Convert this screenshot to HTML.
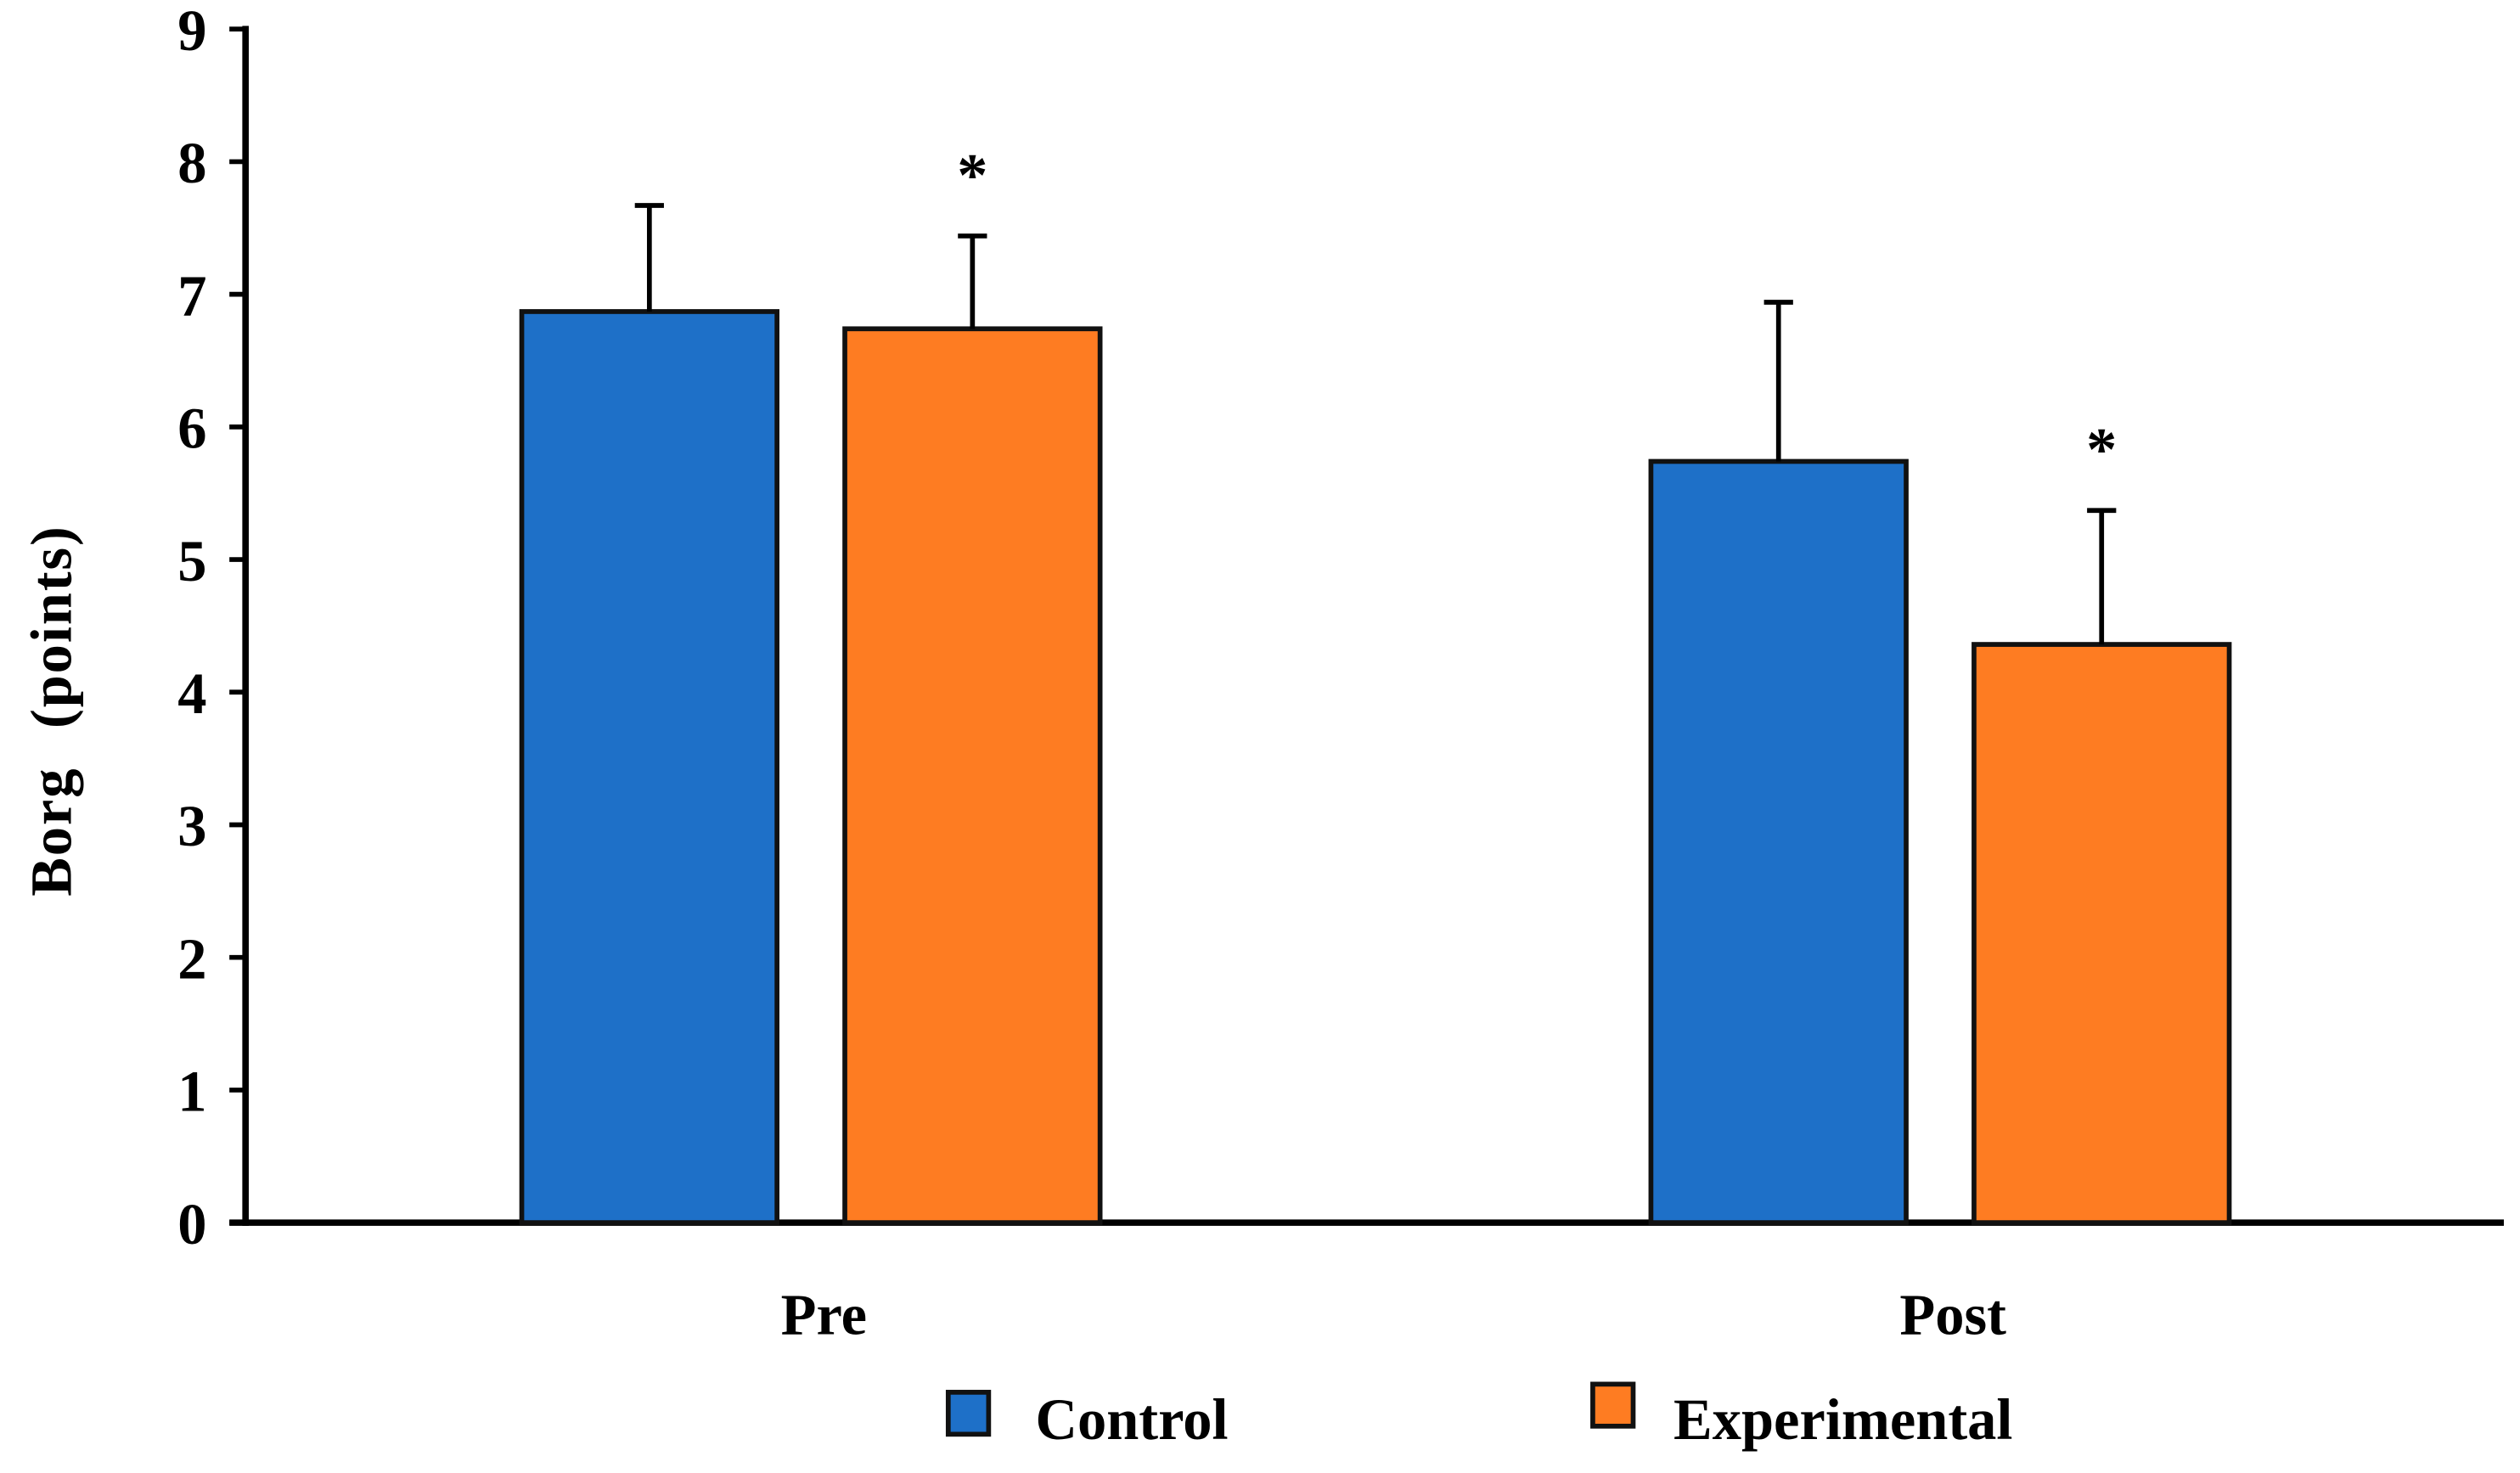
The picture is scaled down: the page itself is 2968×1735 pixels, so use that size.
<!DOCTYPE html>
<html><head><meta charset="utf-8"><style>
html,body{margin:0;padding:0;background:#fff;}
svg{display:block;}
text{font-family:"Liberation Serif",serif;font-weight:bold;fill:#000;}
</style></head><body>
<svg id="chart" width="2968" height="1735" viewBox="0 0 1560 912" preserveAspectRatio="none" xmlns="http://www.w3.org/2000/svg">
<g id="axes"></g><g id="bars"></g>
<text transform="translate(44,440) rotate(-90)" text-anchor="middle" font-size="36" letter-spacing="1" word-spacing="14">Borg (points)</text>
<g>
<rect x="587" y="862" width="25" height="26" fill="#1e70c8" stroke="#111" stroke-width="3"/>
<text x="641" y="891" font-size="36">Control</text>
<rect x="986" y="857" width="25" height="26" fill="#fe7c22" stroke="#111" stroke-width="3"/>
<text x="1036" y="891" font-size="36">Experimental</text>
</g>
</svg>
<script>
const categories = ["Pre", "Post"];
const controlMeans = [6.87, 5.74];
const controlErr = [0.80, 1.20];
const experimentalMeans = [6.74, 4.36];
const experimentalErr = [0.70, 1.01];
const significant = [true, true];
const yTicks = [0,1,2,3,4,5,6,7,8,9];

const NS = "http://www.w3.org/2000/svg";
const X0 = 152, X1 = 1550, Y0 = 757, Y9 = 18;
const y = v => Y0 - (Y0 - Y9) * v / 9;
const groupCenter = i => 502 + i * 699;
const barW = 158;
function mk(tag, attrs, parent){const e=document.createElementNS(NS,tag);for(const k in attrs)e.setAttribute(k,attrs[k]);parent.appendChild(e);return e;}
const axes = document.getElementById('axes'), bars = document.getElementById('bars');

yTicks.forEach(t=>{
  const l = mk('line',{x1:142,x2:X0,y1:y(t),y2:y(t),stroke:'#000','stroke-width':3},axes);
  
  
  const tx = mk('text',{x:128,y:y(t)+13,'text-anchor':'end','font-size':36},axes);
  tx.textContent = t;
  
  
});

function drawBar(cx, v, err, color, name, star){
  const r = mk('rect',{x:cx-barW/2,y:y(v),width:barW,height:Y0-y(v),fill:color,stroke:'#111','stroke-width':3},bars);
  
  
  const e = mk('line',{x1:cx,x2:cx,y1:y(v),y2:y(v+err),stroke:'#000','stroke-width':3},bars);
  
  
  const c = mk('line',{x1:cx-9,x2:cx+9,y1:y(v+err),y2:y(v+err),stroke:'#000','stroke-width':3},bars);
  
  
  if(star){
    const s = mk('text',{x:cx,y:y(v+err)-25,'text-anchor':'middle','font-size':38},bars);
    s.textContent='*';
    
    
  }
}
categories.forEach((c,i)=>{
  const gc = groupCenter(i);
  drawBar(gc-100, controlMeans[i], controlErr[i], '#1e70c8', 'bar-control-'+c.toLowerCase(), false);
  drawBar(gc+100, experimentalMeans[i], experimentalErr[i], '#fe7c22', 'bar-experimental-'+c.toLowerCase(), significant[i]);
  const t = mk('text',{x:gc+8,y:826,'text-anchor':'middle','font-size':36},axes);
  t.textContent = c;
  
  
});
const ya = mk('line',{x1:X0,x2:X0,y1:Y9-2,y2:Y0+2,stroke:'#000','stroke-width':4},axes);


const xa = mk('line',{x1:142,x2:X1,y1:Y0,y2:Y0,stroke:'#000','stroke-width':4},axes);


</script>
</body></html>
